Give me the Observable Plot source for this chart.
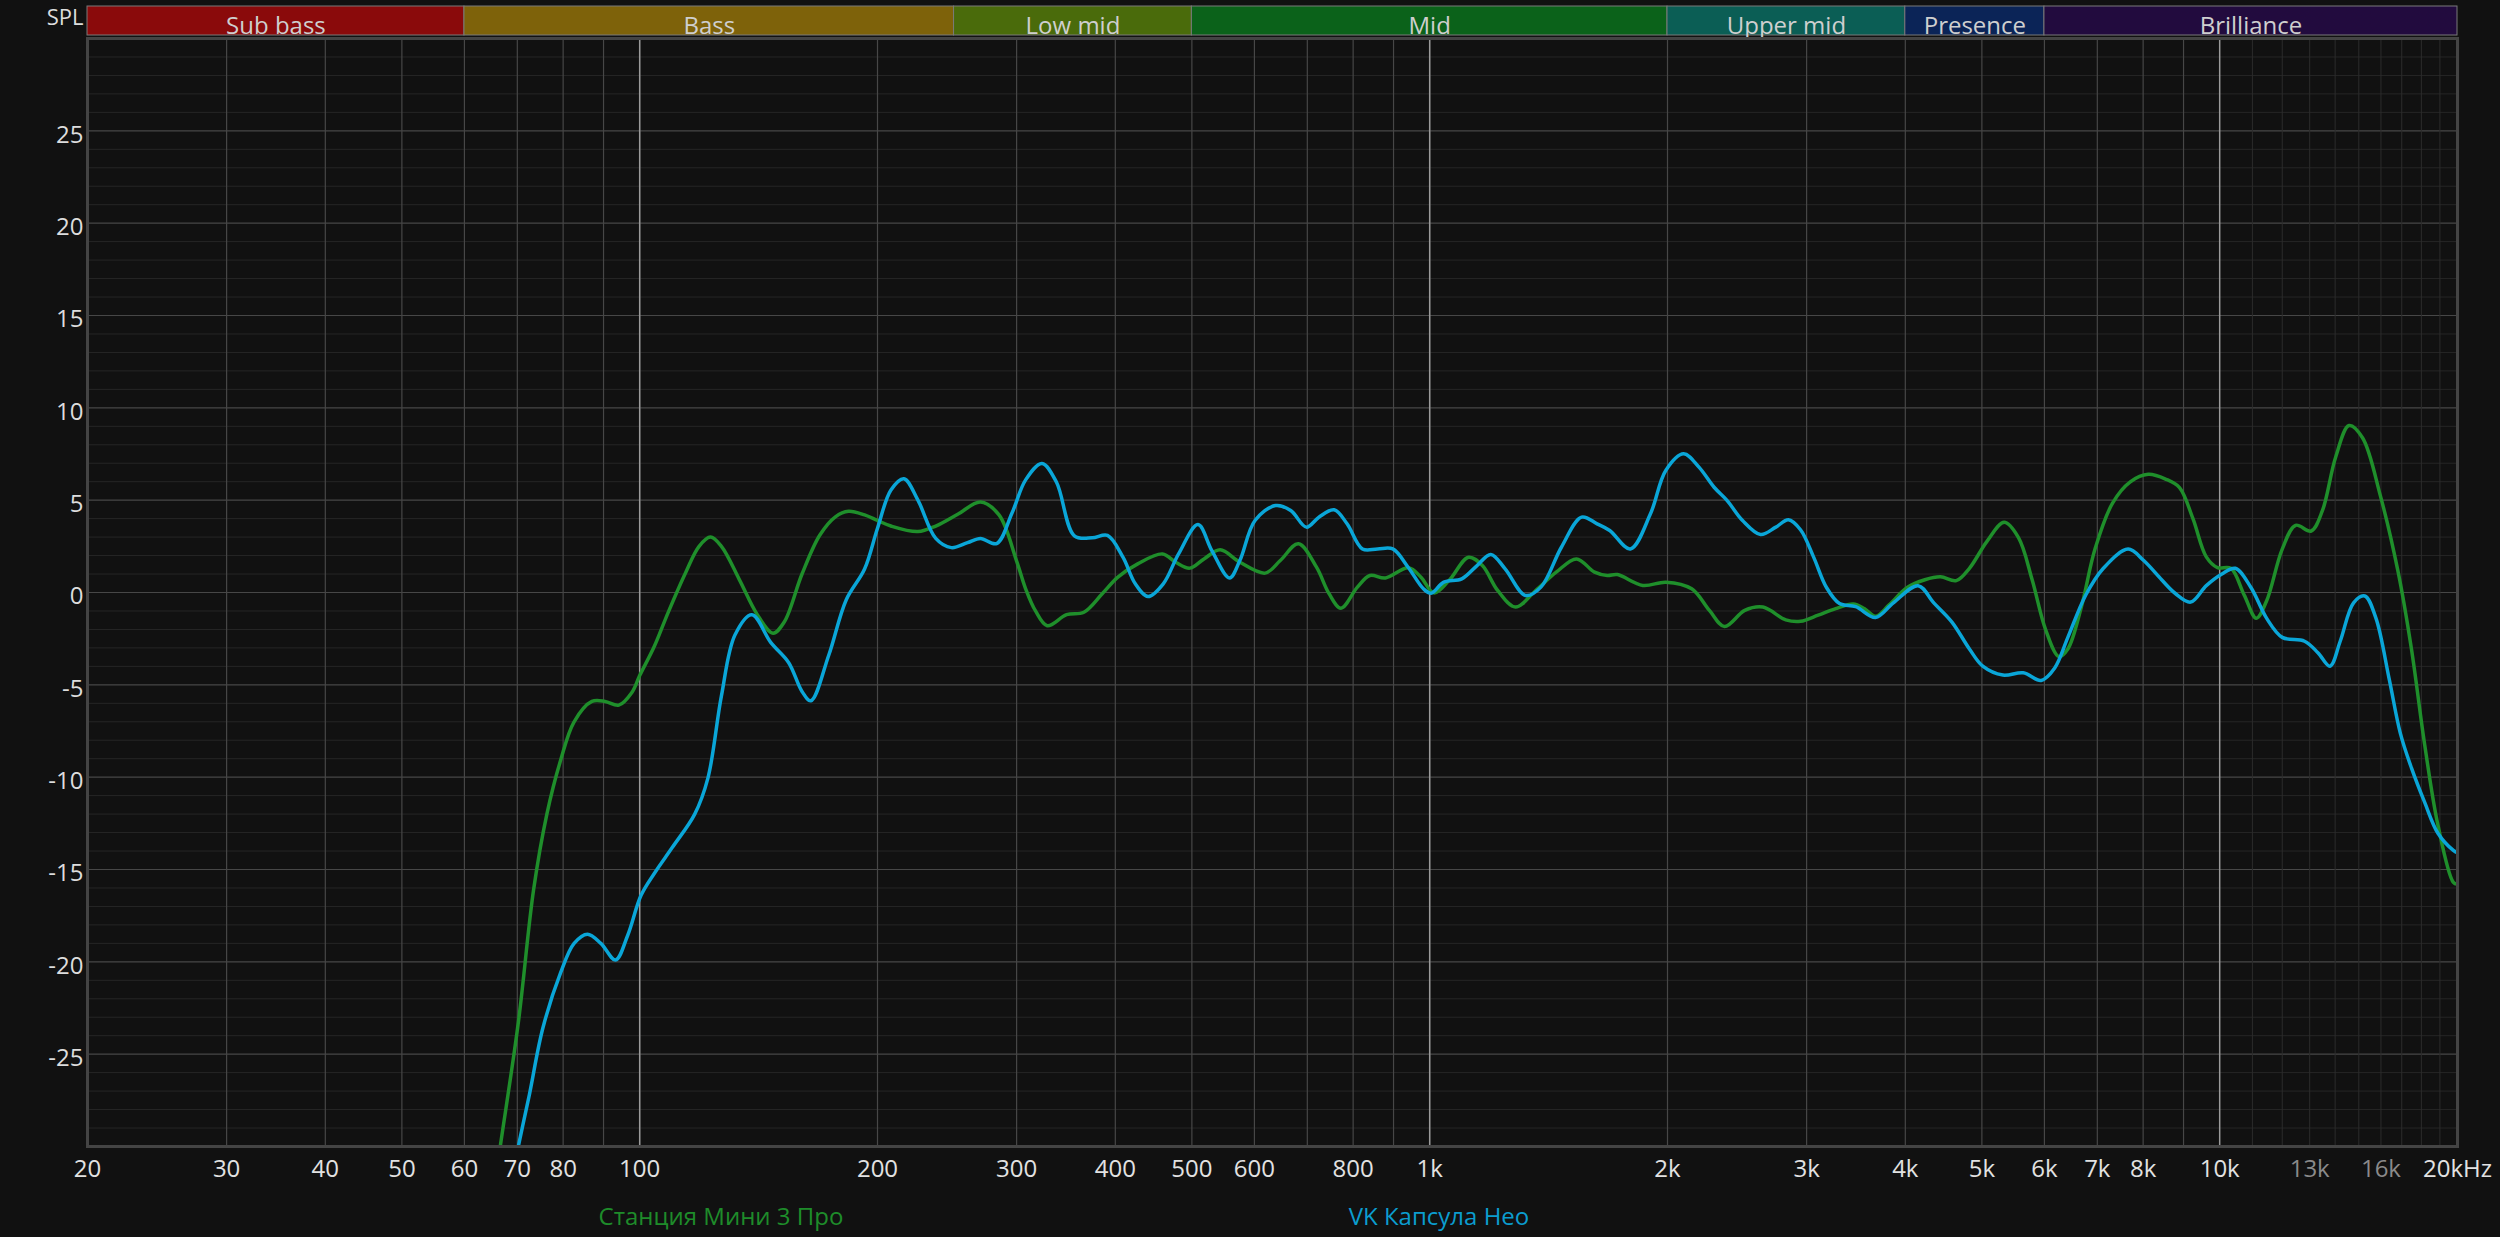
<!DOCTYPE html>
<html>
<head>
<meta charset="utf-8">
<script src="https://cdn.jsdelivr.net/npm/d3@7"></script>
<script src="https://cdn.jsdelivr.net/npm/@observablehq/plot@0.6"></script>
<style>
  html, body { margin: 0; padding: 0; background: #111111; }
  #wrap { position: relative; width: 2500px; height: 1237px; background: #111111; overflow: hidden; font-family: "Open Sans", "Noto Sans", sans-serif; }
  #wrap svg { display: block; }
  .leg { position: absolute; top: 1200px; font-size: 24px; line-height: 32px; transform: translateX(-50%); white-space: nowrap; }
</style>
</head>
<body>
<div id="wrap"></div>
<script>
// ---------- data ----------
const bandNames = ["Sub bass", "Bass", "Low mid", "Mid", "Upper mid", "Presence", "Brilliance"];
const bandStart = [20, 60, 250, 500, 2000, 4000, 6000];
const bandEnd   = [60, 250, 500, 2000, 4000, 6000, 20000];

const xTickValues = [20, 30, 40, 50, 60, 70, 80, 100, 200, 300, 400, 500, 600, 800, 1000, 2000, 3000, 4000, 5000, 6000, 7000, 8000, 10000, 13000, 16000, 20000];
const xTickLabels = ["20", "30", "40", "50", "60", "70", "80", "100", "200", "300", "400", "500", "600", "800", "1k", "2k", "3k", "4k", "5k", "6k", "7k", "8k", "10k", "13k", "16k", "20kHz"];
const yTickValues = [-25, -20, -15, -10, -5, 0, 5, 10, 15, 20, 25];

const seriesNames = ["Станция Мини 3 Про", "VK Капсула Нео"];

const greenFreq = [64, 66.6, 70.2, 73.4, 76.3, 79.4, 82.6, 87, 90.4, 94.1, 97.8, 100, 104.4, 108.6, 114.4, 118.9, 122.9, 126.9, 133.7, 140.9, 147.5, 152.4, 160.5, 169, 176.9, 183.8, 192.6, 200, 208, 225, 237, 253, 270, 285, 300, 308, 317, 328, 347, 365, 385, 403, 427, 459, 477, 497, 518, 543, 575, 619, 647, 682, 719, 746, 772, 810, 840, 879, 940, 975, 1012, 1058, 1120, 1166, 1219, 1284, 1362, 1446, 1534, 1617, 1678, 1728, 1861, 1991, 2146, 2260, 2362, 2505, 2641, 2823, 2947, 3103, 3265, 3437, 3549, 3667, 3816, 4022, 4235, 4432, 4640, 4822, 5075, 5336, 5563, 5789, 6022, 6259, 6424, 6683, 6953, 7318, 7706, 8120, 8554, 8895, 9248, 9617, 9935, 10331, 10742, 11126, 11464, 12000, 12476, 13055, 13490, 14024, 14583, 15163, 15969, 16824, 17488, 18176, 18892, 19760, 20000];
const greenDb = [-35, -30, -23.3, -16.1, -12.0, -9.1, -7.0, -5.9, -5.9, -6.1, -5.4, -4.5, -2.9, -1.1, 1.1, 2.5, 3.0, 2.5, 0.7, -1.2, -2.2, -1.6, 1.0, 3.1, 4.1, 4.4, 4.2, 3.9, 3.6, 3.3, 3.6, 4.25, 4.9, 4.2, 1.7, 0.2, -1.0, -1.8, -1.2, -1.07, -0.07, 0.83, 1.55, 2.09, 1.64, 1.32, 1.82, 2.31, 1.64, 1.05, 1.73, 2.64, 1.37, -0.07, -0.85, 0.29, 0.92, 0.79, 1.34, 0.83, -0.02, 0.65, 1.91, 1.46, 0.11, -0.79, 0.11, 1.1, 1.82, 1.1, 0.92, 0.97, 0.38, 0.56, 0.2, -0.97, -1.84, -0.97, -0.79, -1.48, -1.56, -1.23, -0.87, -0.62, -0.87, -1.29, -0.67, 0.27, 0.69, 0.85, 0.64, 1.31, 2.77, 3.8, 2.97, 0.69, -2.02, -3.47, -3.06, -0.77, 2.35, 4.84, 5.99, 6.4, 6.13, 5.68, 4.01, 1.93, 1.35, 1.31, -0.14, -1.39, -0.46, 2.35, 3.64, 3.33, 4.43, 7.34, 9.04, 8.38, 5.26, 1.1, -3.06, -8.25, -12.6, -15.7, -15.8];

const blueFreq = [68, 70.2, 72.5, 75.4, 79.4, 82.6, 85.9, 89.3, 93.2, 96.5, 100.4, 104.4, 110, 117.4, 122, 126.9, 132, 138.7, 146.5, 154.4, 160.5, 164.7, 173.5, 182.6, 192.6, 200, 208, 216, 225, 237, 248, 260, 270, 283, 296, 308, 323, 337, 355, 374, 391, 409, 424, 440, 460, 481, 509, 530, 558, 575, 601, 638, 667, 698, 724, 757, 786, 822, 859, 898, 939, 982, 1004, 1042, 1098, 1148, 1195, 1246, 1322, 1383, 1468, 1557, 1629, 1690, 1795, 1903, 1990, 2096, 2192, 2291, 2380, 2489, 2623, 2743, 2845, 2947, 3061, 3179, 3302, 3462, 3667, 3863, 4152, 4346, 4582, 4822, 5013, 5315, 5640, 5943, 6180, 6424, 6766, 7125, 7657, 8014, 8443, 8781, 9189, 9617, 10065, 10466, 10954, 11464, 12000, 12805, 13315, 13790, 14209, 14773, 15264, 15768, 16395, 16932, 17488, 18176, 18892, 19760, 20000];
const blueDb = [-33, -30, -27.2, -23.6, -20.6, -19.0, -18.5, -19.0, -19.9, -18.6, -16.4, -15.2, -13.8, -12.0, -10.05, -5.6, -2.3, -1.2, -2.7, -3.8, -5.36, -5.86, -3.4, -0.39, 1.27, 3.48, 5.55, 6.16, 5.0, 2.93, 2.43, 2.7, 2.93, 2.65, 4.3, 6.1, 6.99, 5.97, 3.07, 2.96, 3.09, 1.91, 0.47, -0.22, 0.47, 2.09, 3.68, 2.27, 0.79, 1.73, 3.9, 4.71, 4.44, 3.54, 4.08, 4.48, 3.72, 2.36, 2.36, 2.36, 1.37, 0.2, -0.04, 0.56, 0.74, 1.46, 2.06, 1.28, -0.16, 0.29, 2.45, 4.08, 3.72, 3.36, 2.36, 4.26, 6.61, 7.51, 6.79, 5.7, 4.98, 3.9, 3.14, 3.54, 3.94, 3.4, 1.93, 0.27, -0.6, -0.77, -1.35, -0.56, 0.37, -0.56, -1.6, -3.06, -3.99, -4.47, -4.35, -4.76, -4.1, -2.43, -0.15, 1.31, 2.35, 1.73, 0.69, -0.04, -0.52, 0.37, 1.0, 1.31, 0.27, -1.39, -2.43, -2.64, -3.26, -3.99, -2.64, -0.56, -0.19, -1.39, -4.72, -7.63, -9.5, -11.37, -13.04, -13.97, -14.1];

// ---------- styling ----------
const bandColors = ["#8a0a0b", "#7e620a", "#4a6b0b", "#0b621a", "#0b5e55", "#0b2457", "#220b3e"];
const greenColor = "#1f8f2b";
const blueColor = "#0aa6d8";
const FONT = "'Open Sans', 'Noto Sans', sans-serif";

const W = 2500, ML = 87, MR = 43;
const xScale = {type: "log", domain: [20, 20000], axis: null};

const bands = bandNames.map((name, i) => ({name, start: bandStart[i], end: bandEnd[i]}));
const green = greenFreq.map((f, i) => ({f, db: greenDb[i]}));
const blue = blueFreq.map((f, i) => ({f, db: blueDb[i]}));
const xTicks = xTickValues.map((v, i) => ({v, label: xTickLabels[i]}));

// grid values (structure of a log axis)
const gridMain = [];
for (const dec of [10, 100, 1000]) for (let k = 1; k <= 9; k++) { const v = k * dec; if (v >= 20 && v <= 10000) gridMain.push(v); }
const gridMajor = [100, 1000, 10000];
const gridFine = d3.range(11000, 20000, 1000);
const dbMinor = d3.range(-30, 31, 1).filter(d => d % 5 !== 0);
const dbMajor = d3.range(-25, 26, 5);

const style = {background: "#111111", color: "#dddddd", fontFamily: FONT, fontSize: "24px", overflow: "visible"};

const bandPlot = Plot.plot({
  width: W, height: 36, marginLeft: ML, marginRight: MR, marginTop: 6, marginBottom: 1,
  x: xScale,
  color: {domain: bandNames, range: bandColors},
  style,
  marks: [
    Plot.rect(bands, {x1: "start", x2: "end", fill: "name", stroke: "#7a7a7a", strokeWidth: 1}),
    Plot.text(bands, {x: d => Math.sqrt(d.start * d.end), frameAnchor: "middle", dy: 5, text: "name", fill: "#cfcfcf", fontSize: 24}),
    Plot.text(["SPL"], {frameAnchor: "left", textAnchor: "end", dx: -4, dy: -3.5, text: d => d, fill: "#dddddd", fontSize: 22})
  ]
});

const mainPlot = Plot.plot({
  width: W, height: 1160, marginLeft: ML, marginRight: MR, marginTop: 2, marginBottom: 50,
  x: xScale,
  y: {domain: [-30, 30], axis: null},
  style,
  marks: [
    Plot.ruleY(dbMinor, {stroke: "#262626", strokeWidth: 1}),
    Plot.ruleY(dbMajor, {stroke: "#474747", strokeWidth: 1.2}),
    Plot.ruleX(gridFine, {stroke: "#2c2c2c", strokeWidth: 1}),
    Plot.ruleX(gridMain, {stroke: "#474747", strokeWidth: 1.2}),
    Plot.ruleX(gridMajor, {stroke: "#9a9a9a", strokeWidth: 1.5}),
    Plot.line(green, {x: "f", y: "db", stroke: greenColor, strokeWidth: 3.5, curve: "catmull-rom", clip: true}),
    Plot.line(blue, {x: "f", y: "db", stroke: blueColor, strokeWidth: 3.5, curve: "catmull-rom", clip: true}),
    Plot.frame({stroke: "#444444", strokeWidth: 3}),
    Plot.text(yTickValues, {y: d => d, frameAnchor: "left", textAnchor: "end", dx: -4, dy: 4, text: d => String(d), fill: "#dddddd", fontSize: 24}),
    Plot.text(xTicks, {x: "v", frameAnchor: "bottom", dy: 30, text: "label", fill: d => (d.v === 13000 || d.v === 16000) ? "#8a8a8a" : "#e2e2e2", fontSize: 24})
  ]
});

const wrap = document.getElementById("wrap");
wrap.appendChild(bandPlot);
wrap.appendChild(mainPlot);

const legendX = [721, 1439];
const legendColors = ["#1e8c2a", "#0b9dcf"];
seriesNames.forEach((name, i) => {
  const d = document.createElement("div");
  d.className = "leg";
  d.style.left = legendX[i] + "px";
  d.style.color = legendColors[i];
  d.textContent = name;
  wrap.appendChild(d);
});
</script>
</body>
</html>
